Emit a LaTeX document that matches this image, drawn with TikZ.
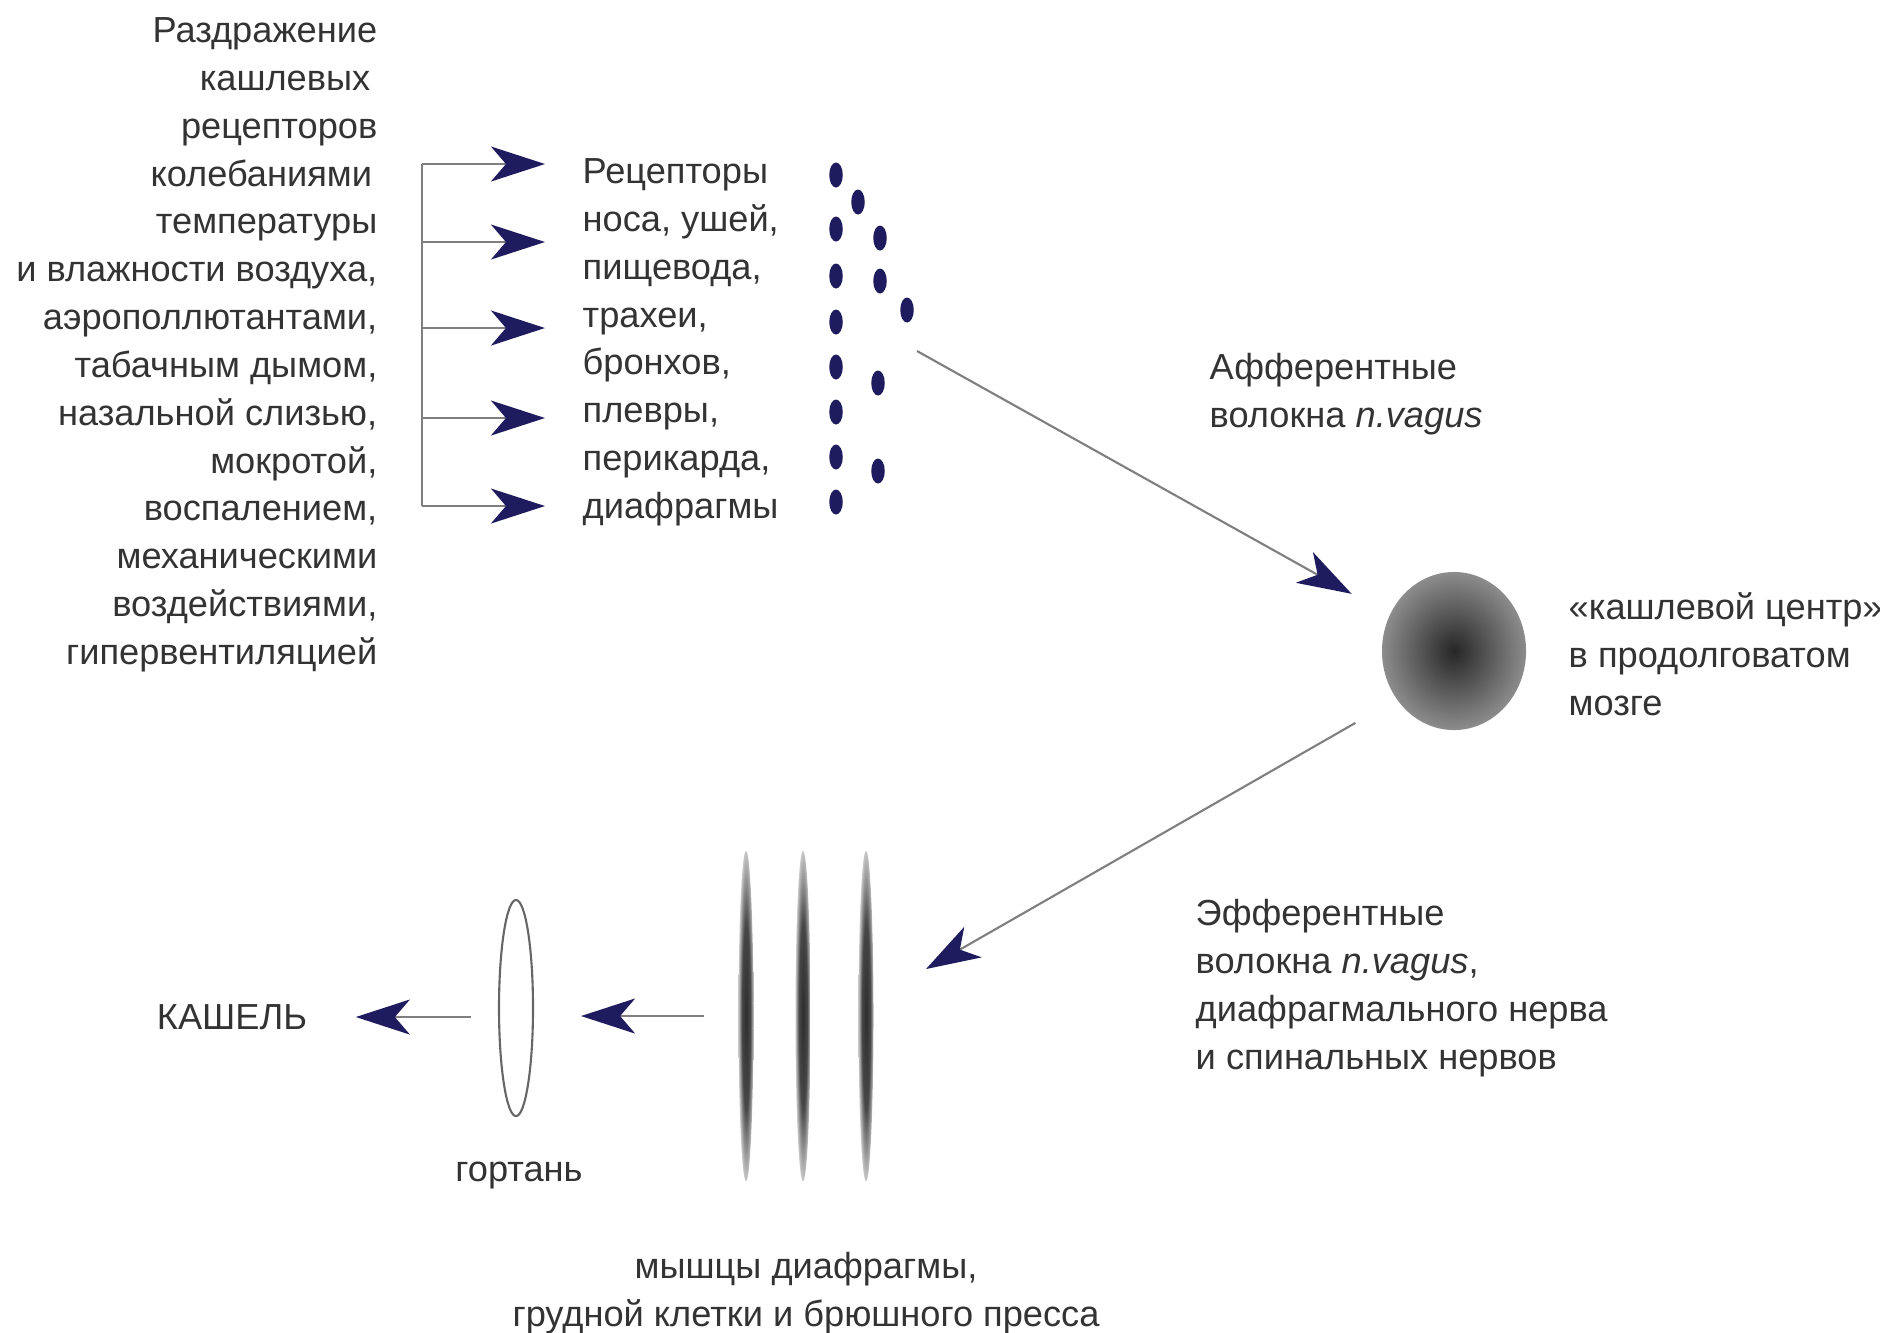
\documentclass[tikz,border=0pt]{standalone}
\usepackage{fontspec}
\setmainfont{Liberation Sans}
\usetikzlibrary{arrows.meta,shapes.geometric,positioning}
\definecolor{navy}{HTML}{1E1B5E}
\definecolor{schrift}{HTML}{333333}
\definecolor{linie}{HTML}{7F7F7F}
\pgfdeclareradialshading{linsenfarbe}{\pgfpoint{0bp}{0bp}}{color(0bp)=(black!82); color(14bp)=(black!72); color(25bp)=(black!22); color(50bp)=(black!22)}

\begin{document}
\begin{tikzpicture}[
      x=0.01cm, y=-0.01cm,
      font=\fontsize{10.3}{13.6}\selectfont, text=schrift,
      punkt/.style={ellipse, fill=navy, minimum width=0.135cm, minimum height=0.25cm, inner sep=0pt},
      pfeil/.style={draw=linie, line width=0.6pt, -{Stealth[length=5.4mm, width=3.5mm, inset=1.5mm, color=navy]}},
      linse/.style={ellipse, inner sep=0pt, minimum width=0.15cm, minimum height=3.3cm, shading=linsenfarbe},
      block/.style={inner sep=0pt, align=left, anchor=north west}
    ]
      \useasboundingbox (0,0) rectangle (1880,1332);

      % Reize
      \node[inner sep=0pt, align=right, anchor=north east] (reiz) at (378,17) {Раздражение\\ кашлевых\kern2pt\\ рецепторов\\ колебаниями\kern1.5pt\\ температуры\\ и влажности воздуха,\\ аэрополлютантами,\\ табачным дымом,\\ назальной слизью,\\ мокротой,\\ воспалением,\\ механическими\\ воздействиями,\\ гипервентиляцией};
      \node[block] (rez) at (582,158) {Рецепторы\\ носа, ушей,\\ пищевода,\\ трахеи,\\ бронхов,\\ плевры,\\ перикарда,\\ диафрагмы};

      \coordinate (b1) at (422,164);
      \coordinate (b2) at (422,242);
      \coordinate (b3) at (422,328);
      \coordinate (b4) at (422,418);
      \coordinate (b5) at (422,506);
      \draw[linie, line width=0.6pt] (b1) -- (b5);
      \draw[pfeil, shorten >=3.7mm] (b1) -- (b1 -| rez.west);
      \draw[pfeil, shorten >=3.7mm] (b2) -- (b2 -| rez.west);
      \draw[pfeil, shorten >=3.7mm] (b3) -- (b3 -| rez.west);
      \draw[pfeil, shorten >=3.7mm] (b4) -- (b4 -| rez.west);
      \draw[pfeil, shorten >=3.7mm] (b5) -- (b5 -| rez.west);

      % Rezeptorpunkte
      \node[punkt] (d1) at (836,175) {};
      \node[punkt] (d2) at (836,229) {};
      \node[punkt] (d3) at (836,276) {};
      \node[punkt] (d4) at (836,322) {};
      \node[punkt] (d5) at (836,367) {};
      \node[punkt] (d6) at (836,412) {};
      \node[punkt] (d7) at (836,457) {};
      \node[punkt] (d8) at (836,502) {};
      \node[punkt] (d9) at (858,202) {};
      \node[punkt] (d10) at (880,238) {};
      \node[punkt] (d11) at (880,281) {};
      \node[punkt] (d12) at (907,310) {};
      \node[punkt] (d13) at (878,383) {};
      \node[punkt] (d14) at (878,471) {};

      % Zentrum
      \node[ellipse, minimum width=1.44cm, minimum height=1.58cm, inner sep=0pt, inner color=black!85, outer color=black!45] (zentrum) at (1454,651) {};
      \node[block] (zlabel) at (1568,592) {«кашлевой центр»\\ в продолговатом\\ мозге};

      \coordinate (af) at (917,351);
      \draw[pfeil, shorten >=4.3mm] (af) -- (zentrum);
      \node[block] (aff) at (1209,353) {Афферентные\\ волокна \textit{n.vagus}};

      \coordinate (ef) at (926,969);
      \draw[pfeil, shorten <=4.7mm] (zentrum.220) -- (ef);
      \node[block] (eff) at (1195,899) {Эфферентные\\ волокна \textit{n.vagus},\\ диафрагмального нерва\\ и спинальных нервов};

      % Muskeln
      \node[linse] (m1) at (746,1016) {};
      \node[linse] (m2) at (803,1016) {};
      \node[linse] (m3) at (866,1016) {};
      \node[inner sep=0pt, align=center, anchor=north] (mlabel) at (806,1252) {мышцы диафрагмы,\\ грудной клетки и брюшного пресса};

      % Kehlkopf
      \node[ellipse, draw=black!60, line width=0.6pt, minimum width=0.34cm, minimum height=2.16cm, inner sep=0pt] (larynx) at (516,1008) {};
      \node[inner sep=0pt] (glabel) at (519,1175) {гортань};
      \node[inner sep=0pt] (husten) at (232,1017) {КАШЕЛЬ};

      \draw[pfeil, shorten <=3.4mm, shorten >=6.5mm] (m1) -- (m1 -| larynx);
      \draw[pfeil, shorten <=4.5mm, shorten >=4.8mm] (husten -| larynx) -- (husten);
    \end{tikzpicture}
\end{document}
